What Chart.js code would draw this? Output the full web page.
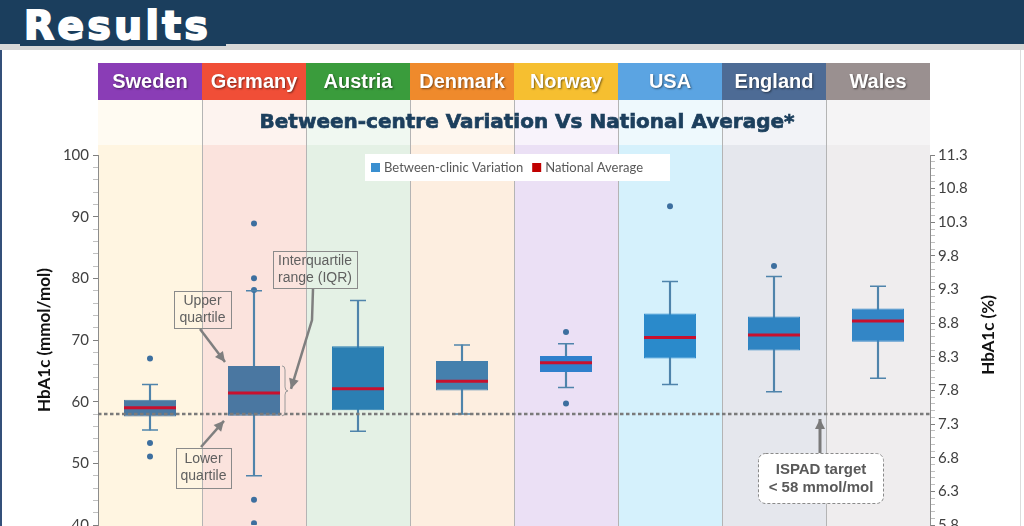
<!DOCTYPE html>
<html>
<head>
<meta charset="utf-8">
<script src="https://cdn.jsdelivr.net/npm/chart.js@4.4.1/dist/chart.umd.min.js"></script>
<style>
  html, body { margin: 0; padding: 0; width: 1024px; height: 526px; overflow: hidden; background: #fff; }
  #chart { position: absolute; left: 0; top: 0; }
  #bar { position: absolute; left: 0; top: 0; width: 1024px; height: 44px; background: #1b3e5d; }
  #bar2 { position: absolute; left: 20px; top: 44px; width: 206px; height: 2px; background: #1b3e5d; }
  #rule { position: absolute; left: 0; top: 44px; width: 1024px; height: 6px; background: #d7d7d7; }
  #title { position: absolute; left: 24px; top: 6px; font: bold 39px/40px "DejaVu Sans"; letter-spacing: 3.5px;
           color: #fff; -webkit-text-stroke: 2px #fff; }
  #frameL { position: absolute; left: 0; top: 50px; width: 2px; height: 476px; background: #34507a; }
  #frameR { position: absolute; left: 1020px; top: 50px; width: 1px; height: 476px; background: #dcdcdc; }
</style>
</head>
<body>
<canvas id="chart" width="1024" height="570"></canvas>
<div id="rule"></div>
<div id="bar"></div>
<div id="bar2"></div>
<div id="title">Results</div>
<div id="frameL"></div>
<div id="frameR"></div>
<script>
// ================= DATA =================
const countries   = ["Sweden", "Germany", "Austria", "Denmark", "Norway", "USA", "England", "Wales"];
const whiskerLow  = [55.4, 48.0, 55.2, 58.0, 62.3, 62.8, 61.6, 63.8];
const quartile1   = [57.6, 57.7, 58.6, 61.8, 64.8, 67.0, 68.3, 69.7];
const nationalAvg = [59.0, 61.4, 62.1, 63.3, 66.3, 70.4, 70.8, 73.1];
const quartile3   = [60.3, 65.8, 69.0, 66.6, 67.4, 74.3, 73.8, 75.1];
const whiskerHigh = [62.8, 78.0, 76.4, 69.2, 69.4, 79.5, 80.3, 78.7];
const outliers    = [[67.0, 53.3, 51.1], [88.9, 80.0, 78.1, 44.1, 40.3], [], [], [71.3, 59.7], [91.7], [82.0], []];
const ispadTarget = 58;
const mmolTicks   = [40, 50, 60, 70, 80, 90, 100];
const pctTicks    = [5.8, 6.3, 6.8, 7.3, 7.8, 8.3, 8.8, 9.3, 9.8, 10.3, 10.8, 11.3];

const subtitle   = "Between-centre Variation Vs National Average*";
const rightTitle = "HbA1c (%)";

// ================= COLOURS =================
const headerColors = ["#8a3db6", "#f04e37", "#3a9c3c", "#ef8a2c", "#f6bf30", "#5ba4e2", "#4d6b95", "#9a9090"];
const subColors    = ["#fffbf2", "#fdf3ef", "#f0f8f1", "#fef7ef", "#f8f3fb", "#eef9fd", "#f2f3f7", "#f5f4f5"];
const bandColors   = ["#fff5e1", "#fbe3dd", "#e4f1e5", "#fdeee0", "#ebe0f5", "#d5f1fc", "#e5e7ed", "#efedee"];
const boxColors    = ["#4a79a3", "#4a77a1", "#2b7fb3", "#4580ad", "#2f80cc", "#2a8acb", "#2f84c2", "#3386c6"];
const whiskerColor = "#4f84ab";
const redLine      = "#c8102e";

// ================= HELPERS =================
function arrow(ctx, pts, width, color) {
  ctx.save();
  ctx.strokeStyle = color; ctx.fillStyle = color; ctx.lineWidth = width;
  ctx.beginPath();
  ctx.moveTo(pts[0][0], pts[0][1]);
  for (let i = 1; i < pts.length; i++) ctx.lineTo(pts[i][0], pts[i][1]);
  ctx.stroke();
  const [x1, y1] = pts[pts.length - 2], [x2, y2] = pts[pts.length - 1];
  const a = Math.atan2(y2 - y1, x2 - x1), len = 10, wid = 5;
  ctx.beginPath();
  ctx.moveTo(x2, y2);
  ctx.lineTo(x2 - len * Math.cos(a) + wid * Math.sin(a), y2 - len * Math.sin(a) - wid * Math.cos(a));
  ctx.lineTo(x2 - len * Math.cos(a) - wid * Math.sin(a), y2 - len * Math.sin(a) + wid * Math.cos(a));
  ctx.closePath();
  ctx.fill();
  ctx.restore();
}

function callout(ctx, x, y, w, h, lines) {
  ctx.save();
  ctx.strokeStyle = "#8a8a8a"; ctx.lineWidth = 1;
  ctx.strokeRect(x + 0.5, y + 0.5, w, h);
  ctx.fillStyle = "#606060";
  ctx.font = '14px "Liberation Sans"';
  ctx.textAlign = "center"; ctx.textBaseline = "middle";
  lines.forEach((t, i) => ctx.fillText(t, x + w / 2, y + h / 2 + (i - (lines.length - 1) / 2) * 17));
  ctx.restore();
}

// ================= PLUGIN =================
const decor = {
  id: "decor",
  beforeDraw(chart) {
    const { ctx, chartArea, scales: { x } } = chart;
    const step = x.getPixelForValue(1) - x.getPixelForValue(0);
    const top = chartArea.top;
    ctx.save();
    countries.forEach((name, i) => {
      const left = x.getPixelForValue(i) - step / 2;
      ctx.fillStyle = headerColors[i]; ctx.fillRect(left, top - 92, step, 37);
      ctx.fillStyle = subColors[i];    ctx.fillRect(left, top - 55, step, 45);
      ctx.fillStyle = bandColors[i];   ctx.fillRect(left, top - 10, step, chart.height);
    });
    ctx.strokeStyle = "#b4b4b4"; ctx.lineWidth = 1;
    for (let i = 1; i < countries.length; i++) {
      const px = Math.round(x.getPixelForValue(i) - step / 2) + 0.5;
      ctx.beginPath(); ctx.moveTo(px, top - 55); ctx.lineTo(px, chart.height); ctx.stroke();
    }
    ctx.font = 'bold 20px "Liberation Sans"';
    ctx.textAlign = "center"; ctx.textBaseline = "middle";
    ctx.shadowColor = "rgba(0,0,0,0.5)"; ctx.shadowOffsetX = 1; ctx.shadowOffsetY = 1.5; ctx.shadowBlur = 2;
    ctx.fillStyle = "#fff";
    countries.forEach((name, i) => ctx.fillText(name, x.getPixelForValue(i), top - 73));
    ctx.shadowColor = "transparent";
    ctx.font = 'bold 20px "DejaVu Sans"';
    ctx.fillStyle = "#1c3f5d"; ctx.strokeStyle = "#1c3f5d"; ctx.lineWidth = 0.7;
    ctx.fillText(subtitle, 527, top - 32);
    ctx.strokeText(subtitle, 527, top - 32);
    ctx.restore();
  },
  afterDatasetsDraw(chart) {
    const { ctx, chartArea, scales: { y } } = chart;
    const yT = y.getPixelForValue(ispadTarget);
    ctx.save();
    ctx.setLineDash([3.5, 2.5]);
    ctx.strokeStyle = "#7a7a7a"; ctx.lineWidth = 2.5;
    ctx.beginPath(); ctx.moveTo(chartArea.left, yT); ctx.lineTo(chartArea.right, yT); ctx.stroke();
    ctx.restore();
  },
  afterDraw(chart) {
    const { ctx, chartArea, scales: { x, y } } = chart;
    const step = x.getPixelForValue(1) - x.getPixelForValue(0);
    const half = step * 0.25;

    // right axis title, read bottom to top like the left one
    ctx.save();
    ctx.translate(989, (chartArea.top + chartArea.bottom) / 2 - 5);
    ctx.rotate(-Math.PI / 2);
    ctx.font = 'bold 17px "Lato"'; ctx.fillStyle = "#111";
    ctx.textAlign = "center"; ctx.textBaseline = "middle";
    ctx.fillText(rightTitle, 0, 0);
    ctx.restore();

    // legend
    ctx.save();
    ctx.fillStyle = "#fff"; ctx.fillRect(365, 154, 305, 27);
    ctx.font = '13px "Lato"'; ctx.textBaseline = "middle"; ctx.fillStyle = "#595959";
    const ds = chart.data.datasets;
    ctx.fillStyle = "#3a8fd0"; ctx.fillRect(371, 163, 9, 9);
    ctx.fillStyle = "#595959"; ctx.fillText(ds[1].label, 384, 168);
    const nx = 384 + ctx.measureText(ds[1].label).width + 9;
    ctx.fillStyle = "#c00000"; ctx.fillRect(nx, 163, 9, 9);
    ctx.fillStyle = "#595959"; ctx.fillText(ds[2].label, nx + 13, 168);
    ctx.restore();

    // Germany annotations
    const gx = x.getPixelForValue(1);
    const q3y = y.getPixelForValue(quartile3[1]);
    const q1y = y.getPixelForValue(quartile1[1]);
    callout(ctx, 174, 291, 57, 37, ["Upper", "quartile"]);
    arrow(ctx, [[200, 329], [gx - half - 3, q3y - 4]], 2.5, "#7f7f7f");
    callout(ctx, 176, 448, 55, 40, ["Lower", "quartile"]);
    arrow(ctx, [[201, 447], [gx - half - 4, q1y + 5]], 2.5, "#7f7f7f");
    callout(ctx, 273, 251, 84, 37, ["Interquartile", "range (IQR)"]);

    // brace
    const bx = gx + half + 2, mid = (q3y + q1y) / 2;
    ctx.save();
    ctx.strokeStyle = "#9a9a9a"; ctx.lineWidth = 1;
    ctx.beginPath();
    ctx.moveTo(bx, q3y);
    ctx.quadraticCurveTo(bx + 3, q3y, bx + 3, q3y + 4);
    ctx.lineTo(bx + 3, mid - 4);
    ctx.quadraticCurveTo(bx + 3, mid, bx + 6, mid);
    ctx.quadraticCurveTo(bx + 3, mid, bx + 3, mid + 4);
    ctx.lineTo(bx + 3, q1y - 4);
    ctx.quadraticCurveTo(bx + 3, q1y, bx, q1y);
    ctx.stroke();
    ctx.restore();
    arrow(ctx, [[313, 289], [312, 320], [bx + 9, mid - 2]], 2.5, "#7f7f7f");

    // ISPAD target
    const yT = y.getPixelForValue(ispadTarget);
    ctx.save();
    ctx.fillStyle = "#fff"; ctx.strokeStyle = "#8a8a8a"; ctx.lineWidth = 1; ctx.setLineDash([3, 2]);
    ctx.beginPath(); ctx.roundRect(758.5, 453.5, 125, 50, 7); ctx.fill(); ctx.stroke();
    ctx.setLineDash([]);
    ctx.fillStyle = "#595959"; ctx.font = 'bold 15px "Liberation Sans"';
    ctx.textAlign = "center"; ctx.textBaseline = "middle";
    ctx.fillText("ISPAD target", 821, 470);
    ctx.fillText("< " + ispadTarget + " mmol/mol", 821, 488);
    ctx.restore();
    arrow(ctx, [[820, 453], [820, yT + 5]], 3, "#7a7a7a");
  }
};

// ================= DATASETS =================
const capPoints = [], outlierPoints = [];
countries.forEach((c, i) => {
  capPoints.push({ x: c, y: whiskerLow[i] }, { x: c, y: whiskerHigh[i] });
  outliers[i].forEach(v => outlierPoints.push({ x: c, y: v }));
});

new Chart(document.getElementById("chart"), {
  type: "bar",
  data: {
    labels: countries,
    datasets: [
      {
        label: "Whiskers",
        data: countries.map((c, i) => [whiskerLow[i], whiskerHigh[i]]),
        backgroundColor: whiskerColor,
        barThickness: 1.5,
        grouped: false,
        order: 3
      },
      {
        label: "Between-clinic Variation",
        data: countries.map((c, i) => [quartile1[i], quartile3[i]]),
        backgroundColor: boxColors,
        borderColor: boxColors,
        borderWidth: 1,
        borderSkipped: false,
        barPercentage: 0.5,
        categoryPercentage: 1,
        grouped: false,
        order: 2
      },
      {
        type: "line",
        label: "National Average",
        data: nationalAvg,
        showLine: false,
        pointStyle: "line",
        pointRadius: 26,
        pointHoverRadius: 26,
        pointBorderWidth: 3,
        pointBorderColor: redLine,
        order: 1
      },
      {
        type: "line",
        label: "Caps",
        data: capPoints,
        showLine: false,
        pointStyle: "line",
        pointRadius: 8,
        pointHoverRadius: 8,
        pointBorderWidth: 1.5,
        pointBorderColor: whiskerColor,
        order: 0
      },
      {
        type: "line",
        label: "Outliers",
        data: outlierPoints,
        showLine: false,
        pointRadius: 3,
        pointHoverRadius: 3,
        pointBorderWidth: 0,
        pointBackgroundColor: "#3d6f9f",
        order: 0
      }
    ]
  },
  options: {
    responsive: false,
    animation: false,
    events: [],
    layout: { padding: { top: 155, bottom: 45, left: 30, right: 21 } },
    plugins: { legend: { display: false }, tooltip: { enabled: false } },
    scales: {
      x: { display: false, offset: true },
      y: {
        position: "left",
        min: 40, max: 100,
        afterFit(s) { s.width = 68; },
        ticks: {
          stepSize: 2, autoSkip: false, padding: 4,
          color: "#404040", font: { family: "Lato", size: 15 },
          callback: v => (mmolTicks.includes(v) ? v : "")
        },
        grid: {
          drawOnChartArea: false, tickLength: 5,
          tickColor: c => (mmolTicks.includes(c.tick.value) ? "#7f7f7f" : "#c0c0c0")
        },
        border: { color: "#8c8c8c" },
        title: {
          display: true, text: "HbA1c (mmol/mol)", color: "#111",
          font: { family: "Lato", size: 17, weight: "bold" }
        }
      },
      y1: {
        position: "right",
        min: 5.8, max: 11.3,
        afterFit(s) { s.width = 73; },
        ticks: {
          stepSize: 0.1, autoSkip: false, padding: 3,
          color: "#404040", font: { family: "Lato", size: 15 },
          callback: v => {
            const hit = pctTicks.find(t => Math.abs(t - v) < 0.01);
            return hit !== undefined ? hit.toFixed(1) : "";
          }
        },
        grid: {
          drawOnChartArea: false, tickLength: 5,
          tickColor: c => (pctTicks.some(t => Math.abs(t - c.tick.value) < 0.01) ? "#7f7f7f" : "#c0c0c0")
        },
        border: { color: "#8c8c8c" }
      }
    }
  },
  plugins: [decor]
});
</script>
</body>
</html>
